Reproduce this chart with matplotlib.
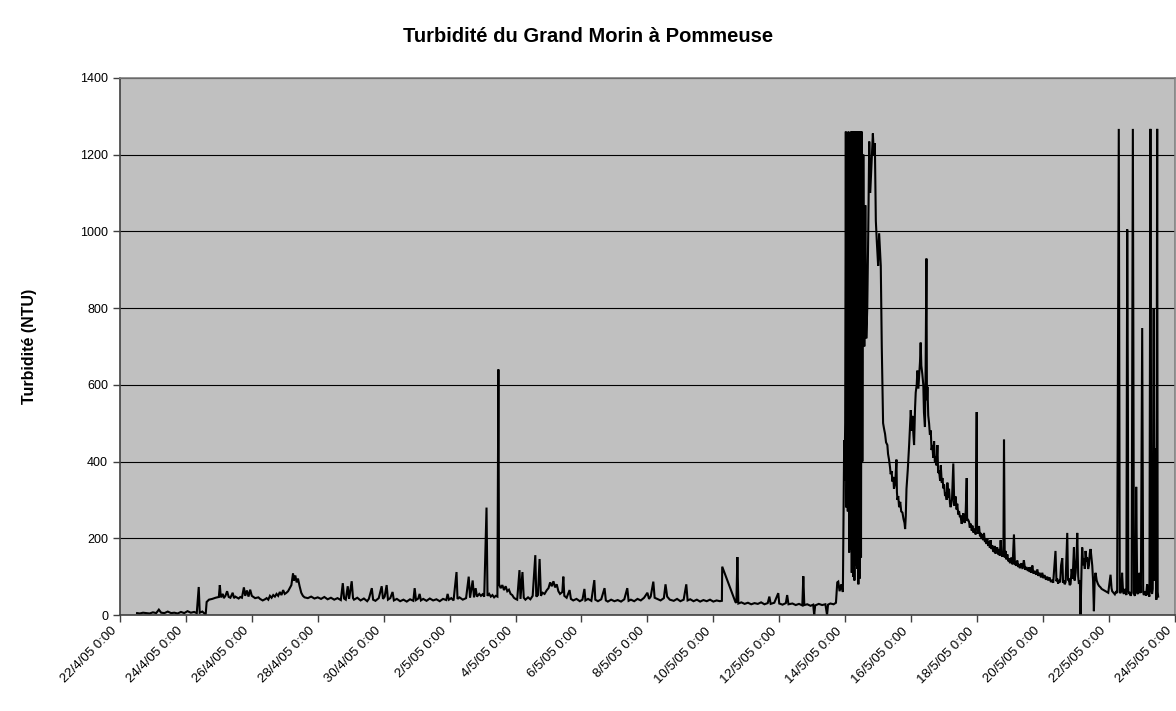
import datetime as dt
import matplotlib
matplotlib.use("Agg")
import matplotlib.pyplot as plt
import matplotlib.transforms as mtransforms
from matplotlib.ticker import FuncFormatter, MultipleLocator

plt.rcParams['font.family'] = ['Liberation Sans', 'DejaVu Sans']

START = dt.datetime(2005, 4, 22)

# Elapsed time in days since 22/4/05 0:00, with turbidity readings (NTU)
days_april = [0.52, 0.6, 0.7, 0.8, 0.9, 1.0, 1.1, 1.18, 1.25, 1.35, 1.45, 1.55, 1.65,
              1.75, 1.85, 1.95, 2.05, 2.15, 2.25, 2.33, 2.39, 2.42, 2.5, 2.56, 2.6,
              2.63, 2.7, 2.8, 2.9, 3.0, 3.03, 3.06, 3.12, 3.15, 3.2, 3.25, 3.3, 3.35,
              3.42, 3.46, 3.5, 3.6, 3.65, 3.7, 3.76, 3.8, 3.85, 3.9, 3.95, 4.0, 4.05,
              4.1, 4.2, 4.25, 4.33, 4.4, 4.45, 4.5, 4.55, 4.6, 4.65, 4.7, 4.75, 4.8,
              4.85, 4.9, 4.95, 5.0, 5.05, 5.1, 5.15, 5.2, 5.25, 5.28, 5.32, 5.36, 5.4,
              5.45, 5.5, 5.55, 5.6]
ntu_april = [5, 4, 6, 5, 4, 7, 5, 14, 6, 5, 9, 5, 6,
             4, 8, 5, 10, 6, 8, 5, 73, 6, 9, 4, 1,
             34, 40, 42, 45, 47, 78, 46, 55, 44, 50, 62, 47, 45,
             58, 44, 48, 43, 47, 45, 72, 50, 64, 48, 66, 50, 47,
             44, 46, 42, 38, 41, 44, 40, 50, 45, 52, 48, 55, 50,
             60, 52, 65, 55, 58, 62, 70, 78, 108, 90, 103, 85, 95,
             75, 58, 50, 46]

days_early_may = [5.7, 5.8, 5.9, 6.0, 6.1, 6.2, 6.3, 6.4, 6.5, 6.6, 6.7, 6.76, 6.8,
                  6.85, 6.91, 6.95, 7.03, 7.07, 7.1, 7.2, 7.3, 7.4, 7.5, 7.55, 7.64,
                  7.68, 7.75, 7.85, 7.94, 7.98, 8.03, 8.09, 8.13, 8.2, 8.27, 8.31, 8.4,
                  8.5, 8.6, 8.7, 8.8, 8.9, 8.94, 8.98, 9.05, 9.09, 9.13, 9.2, 9.3, 9.4,
                  9.5, 9.6, 9.7, 9.8, 9.9, 9.94, 9.98, 10.05, 10.12, 10.21, 10.24, 10.3,
                  10.4, 10.5, 10.58, 10.62, 10.7, 10.74, 10.79, 10.83, 10.9, 10.95,
                  11.0, 11.05, 11.12, 11.15, 11.2, 11.25, 11.3, 11.35, 11.4, 11.45,
                  11.48, 11.5, 11.55, 11.6, 11.65, 11.7, 11.75, 11.8, 11.85, 11.9,
                  11.95, 12.0]
ntu_early_may = [44, 48, 43, 46, 42, 47, 41, 45, 40, 44, 39, 83, 43,
                 40, 75, 42, 88, 44, 40, 45, 38, 43, 36, 42, 70,
                 40, 37, 44, 75, 42, 48, 78, 40, 44, 60, 38, 42,
                 36, 40, 35, 41, 37, 70, 39, 43, 55, 38, 42, 37, 43,
                 38, 41, 36, 42, 39, 55, 40, 44, 38, 112, 42, 46,
                 40, 44, 100, 45, 90, 46, 70, 48, 55, 50,
                 54, 48, 280, 50, 55, 48, 52, 46, 50, 48,
                 640, 80, 70, 78, 65, 75, 62, 66, 55, 52,
                 45, 42]

days_mid_may = [12.05, 12.12, 12.15, 12.21, 12.25, 12.3, 12.38, 12.45, 12.52, 12.6,
                12.63, 12.68, 12.73, 12.77, 12.82, 12.88, 12.95, 13.0, 13.05, 13.1,
                13.15, 13.2, 13.25, 13.3, 13.35, 13.42, 13.45, 13.48, 13.55, 13.64,
                13.68, 13.75, 13.85, 13.95, 14.03, 14.09, 14.12, 14.2, 14.3, 14.39,
                14.42, 14.5, 14.6, 14.7, 14.74, 14.8, 14.9, 15.0, 15.1, 15.2, 15.3,
                15.39, 15.43, 15.5, 15.6, 15.7, 15.8, 15.9, 16.0, 16.05, 16.1, 16.18,
                16.22, 16.3, 16.4, 16.5, 16.55, 16.6, 16.68, 16.8, 16.9, 17.0, 17.1,
                17.18, 17.22, 17.3, 17.4, 17.5, 17.6, 17.7, 17.8, 17.9, 18.0, 18.1,
                18.2, 18.26, 18.27, 18.67, 18.7, 18.73, 18.76, 18.85, 18.95, 19.05,
                19.15, 19.25, 19.35, 19.45, 19.55, 19.65, 19.7, 19.74, 19.85, 19.97,
                20.0, 20.1, 20.2, 20.24, 20.28, 20.4, 20.5, 20.6, 20.7, 20.73, 20.76,
                20.85, 20.95, 21.03, 21.06, 21.09, 21.2, 21.3, 21.4, 21.45, 21.48,
                21.55, 21.65, 21.72, 21.76, 21.79, 21.83, 21.88, 21.93]
ntu_mid_may = [40, 117, 42, 112, 45, 40, 46, 41, 50, 156,
               48, 52, 146, 50, 58, 55, 65, 70, 85, 75,
               88, 72, 80, 62, 55, 60, 100, 50, 45, 65,
               42, 38, 42, 36, 40, 68, 38, 42, 37, 91,
               40, 36, 41, 70, 38, 35, 40, 36, 39, 35, 41,
               70, 37, 40, 36, 42, 38, 45, 58, 42, 48, 87,
               45, 42, 38, 44, 80, 48, 40, 37, 42, 36, 40,
               80, 38, 41, 36, 40, 35, 39, 36, 40, 35, 38,
               36, 37, 126, 34, 32, 151, 30, 33, 29, 32,
               28, 31, 29, 33, 28, 31, 48, 29, 32, 57,
               30, 27, 31, 52, 28, 30, 26, 29, 25, 101, 26,
               28, 24, 27, 0, 25, 29, 26, 28, 0, 27,
               30, 28, 32, 85, 87, 62, 80, 60]

# Flood of 14-15 May: saturated sensor readings
days_flood = [21.97, 21.98, 22.0, 22.02, 22.04, 22.06, 22.08, 22.1, 22.12, 22.14,
              22.16, 22.18, 22.2, 22.22, 22.24, 22.26, 22.28, 22.3, 22.32, 22.34,
              22.36, 22.38, 22.4, 22.42, 22.44, 22.46, 22.48, 22.5, 22.52, 22.55,
              22.58, 22.61, 22.64, 22.67, 22.7, 22.73, 22.76, 22.8, 22.84, 22.87,
              22.9, 22.93, 22.96, 23.0, 23.03, 23.08]
ntu_flood = [456, 350, 500, 1260, 280, 505, 270, 1260, 163, 1000,
             170, 1260, 110, 1260, 100, 1260, 90, 1260, 130, 1260,
             120, 1260, 80, 1260, 95, 1260, 150, 1260, 400, 1200,
             700, 1068, 721, 800, 1000, 1234, 1100, 1180, 1255, 1200,
             1230, 1027, 973, 910, 995, 910]

# Recession and second peak (15-21 May)
days_recession = [23.11, 23.15, 23.18, 23.21, 23.24, 23.28, 23.3, 23.33, 23.36, 23.38,
                  23.41, 23.43, 23.46, 23.48, 23.52, 23.555, 23.57, 23.586, 23.61,
                  23.636, 23.67, 23.7, 23.737, 23.77, 23.8, 23.818, 23.838, 23.86,
                  23.9, 23.94, 23.97, 23.99, 24.02, 24.04, 24.07, 24.09, 24.12, 24.14,
                  24.17, 24.19, 24.22, 24.24, 24.27, 24.29, 24.31, 24.34, 24.37, 24.39,
                  24.42, 24.44, 24.465, 24.48, 24.495, 24.52, 24.545, 24.57, 24.596,
                  24.62, 24.646, 24.67, 24.697, 24.72, 24.747, 24.77, 24.798, 24.82,
                  24.848, 24.88, 24.9, 24.93, 24.95, 24.98, 25.0, 25.03, 25.05, 25.08,
                  25.1, 25.13, 25.15, 25.18, 25.2, 25.24, 25.28, 25.31, 25.35, 25.38,
                  25.4, 25.43, 25.455, 25.48, 25.5, 25.53, 25.556, 25.58, 25.6, 25.63,
                  25.657, 25.687, 25.7, 25.72, 25.758, 25.78, 25.81, 25.84, 25.859,
                  25.89, 25.92, 25.96, 25.99, 26.0, 26.02, 26.04, 26.06, 26.09, 26.11,
                  26.14, 26.16, 26.19, 26.21, 26.24, 26.26, 26.29, 26.31, 26.34, 26.36,
                  26.39, 26.41, 26.44, 26.46, 26.49, 26.515, 26.54, 26.56, 26.59,
                  26.616, 26.64, 26.66, 26.69, 26.717, 26.74, 26.77, 26.8, 26.818,
                  26.84, 26.868, 26.89, 26.92, 26.95, 26.97, 27.0, 27.04, 27.08, 27.12,
                  27.15, 27.17, 27.2, 27.22, 27.25, 27.27, 27.3, 27.34, 27.38, 27.42,
                  27.46, 27.5, 27.54, 27.576, 27.6, 27.62, 27.65, 27.677, 27.71, 27.75,
                  27.79, 27.83, 27.86, 27.9, 27.94, 27.98, 28.01, 28.05, 28.09, 28.13,
                  28.16, 28.2, 28.24, 28.28, 28.31, 28.34, 28.38, 28.41, 28.43, 28.46,
                  28.485, 28.52, 28.55, 28.586, 28.61, 28.64, 28.66, 28.687, 28.737,
                  28.76, 28.79, 28.81, 28.838, 28.87, 28.9, 28.94, 28.96, 28.99, 29.02,
                  29.04, 29.07, 29.09, 29.12, 29.14, 29.17, 29.19, 29.22, 29.24, 29.27,
                  29.293, 29.32, 29.34, 29.37, 29.394, 29.42, 29.445, 29.47, 29.495,
                  29.52, 29.545, 29.57, 29.596, 29.63, 29.667, 29.7, 29.747, 29.78,
                  29.82, 29.86, 29.9, 29.94, 29.98]
ntu_recession = [700, 500, 485, 472, 450, 443, 420, 405, 385, 367,
                 375, 348, 360, 329, 345, 405, 320, 300, 310,
                 281, 295, 270, 267, 250, 240, 224, 257, 329,
                 380, 443, 500, 534, 480, 519, 470, 443, 540, 580,
                 600, 637, 590, 618, 660, 710, 650, 628, 600, 528,
                 490, 640, 929, 560, 595, 520, 500, 470, 481,
                 430, 443, 410, 453, 400, 414, 390, 443, 370,
                 376, 350, 390, 345, 357, 330, 340, 310, 319, 300,
                 345, 305, 329, 290, 281, 300, 395, 285, 309, 275,
                 290, 262, 271, 255, 260, 238, 243, 265, 250, 240,
                 271, 357, 245, 250, 243, 228, 238, 220, 233,
                 215, 225, 210, 529, 230, 224, 212, 232, 205, 214,
                 198, 210, 195, 214, 190, 200, 185, 200, 180, 192,
                 175, 195, 172, 182, 165, 167, 180, 160, 172,
                 176, 158, 170, 155, 195, 160, 152, 165, 457,
                 150, 167, 145, 158, 140, 148, 135, 150, 132, 210,
                 130, 138, 128, 142, 125, 133, 122, 135, 120, 143,
                 118, 125, 115, 124, 112, 125, 110, 129, 108, 115,
                 105, 119, 102, 110, 98, 110, 96, 104, 92, 100,
                 90, 98, 86, 91, 84, 120, 167, 88, 95, 82,
                 91, 85, 130, 148, 84, 90, 80, 86, 214,
                 90, 92, 78, 81, 120, 95, 176, 90, 110, 150,
                 214, 100, 81, 90, 0, 120, 176, 130, 148, 120,
                 167, 140, 150, 120, 129, 160, 172, 150, 129,
                 90, 10, 95, 110, 90, 81, 76, 72, 68,
                 66, 64, 62, 60, 58]

# Last days: low base level with isolated saturated spikes
days_late_may = [30.05, 30.08, 30.1, 30.14, 30.18, 30.22, 30.25, 30.3, 30.33, 30.35,
                 30.38, 30.4, 30.43, 30.455, 30.48, 30.5, 30.53, 30.556, 30.576,
                 30.59, 30.606, 30.63, 30.66, 30.69, 30.727, 30.76, 30.788, 30.81,
                 30.828, 30.86, 30.89, 30.93, 30.95, 30.97, 31.01, 31.04, 31.06,
                 31.09, 31.11, 31.13, 31.16, 31.19, 31.21, 31.23, 31.26, 31.29,
                 31.31, 31.33, 31.36, 31.38, 31.41, 31.44, 31.465, 31.48, 31.495]
ntu_late_may = [105, 70, 62, 58, 54, 62, 57, 1267, 60, 57,
                65, 110, 60, 55, 68, 60, 52, 1005, 560,
                62, 55, 60, 50, 58, 1267, 55, 50, 62,
                334, 58, 55, 110, 60, 58, 748, 60, 52,
                58, 62, 50, 80, 55, 54, 48, 1267, 62,
                55, 68, 800, 90, 434, 40, 1267, 60, 48]

y_ticks = [0, 200, 400, 600, 800, 1000, 1200, 1400]

days = days_april + days_early_may + days_mid_may + days_flood + days_recession + days_late_may
ntu = ntu_april + ntu_early_may + ntu_mid_may + ntu_flood + ntu_recession + ntu_late_may


def date_label(value, pos):
    d = START + dt.timedelta(days=value)
    return f"{d.day}/{d.month}/{d:%y} {d.hour}:{d:%M}"


fig = plt.figure(figsize=(11.76, 7.11), dpi=100)
ax = fig.add_axes([0.102, 0.135, 0.897, 0.7555])
ax.set_facecolor('#C0C0C0')

ax.plot(days, ntu, color='black', linewidth=1.5, solid_joinstyle='miter')

ax.set_xlim(0, 32)
ax.set_ylim(0, 1400)
ax.set_yticks(y_ticks)
ax.xaxis.set_major_locator(MultipleLocator(2))
ax.xaxis.set_major_formatter(FuncFormatter(date_label))

ax.grid(axis='y', color='black', linewidth=0.8)
ax.set_axisbelow(True)

for side in ('top', 'right'):
    ax.spines[side].set_color('#808080')
    ax.spines[side].set_linewidth(1.2)
for side in ('left', 'bottom'):
    ax.spines[side].set_color('#404040')
    ax.spines[side].set_linewidth(1.2)

ax.tick_params(axis='both', direction='out', length=5, width=1, color='#404040',
               labelsize=9)
ax.tick_params(axis='x', labelsize=9.5, pad=3)
shift = mtransforms.ScaledTranslation(-9 / 100, 1 / 100, fig.dpi_scale_trans)
for lbl in ax.get_xticklabels():
    lbl.set_rotation(45)
    lbl.set_ha('right')
    lbl.set_va('top')
    lbl.set_rotation_mode('anchor')
    lbl.set_transform(lbl.get_transform() + shift)

ax.set_ylabel('Turbidité (NTU)', fontsize=11.5, fontweight='bold', labelpad=31)
fig.suptitle('Turbidité du Grand Morin à Pommeuse', fontsize=14.5,
             fontweight='bold', y=0.962)

fig.savefig('out.png', dpi=100)
